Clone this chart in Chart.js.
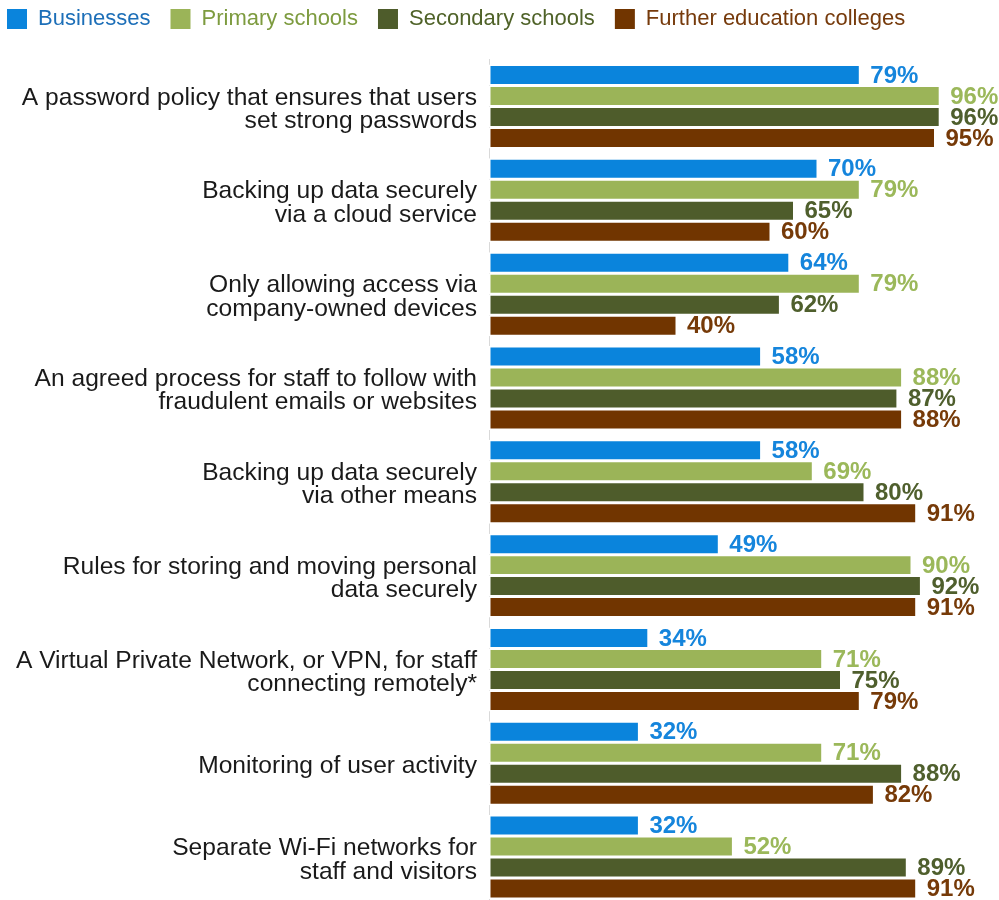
<!DOCTYPE html>
<html>
<head>
<meta charset="utf-8">
<script src="https://cdn.jsdelivr.net/npm/chart.js@4/dist/chart.umd.min.js"></script>
<style>
    html, body { margin: 0; padding: 0; background: #fff; overflow: hidden; }
    #wrap { position: relative; width: 999px; height: 900px; overflow: hidden; }
    /* shifted so the legend's own padding lands near the top-left corner */
    #measuresChart { position: absolute; left: -13px; top: -12px; }
</style>
</head>
<body>
<div id="wrap"><canvas id="measuresChart" width="1012" height="916"></canvas></div>
<script>
const categories = [
    ['A password policy that ensures that users', 'set strong passwords'],
    ['Backing up data securely', 'via a cloud service'],
    ['Only allowing access via', 'company-owned devices'],
    ['An agreed process for staff to follow with', 'fraudulent emails or websites'],
    ['Backing up data securely', 'via other means'],
    ['Rules for storing and moving personal', 'data securely'],
    ['A Virtual Private Network, or VPN, for staff', 'connecting remotely*'],
    'Monitoring of user activity',
    ['Separate Wi-Fi networks for', 'staff and visitors']
];
const seriesNames = ['Businesses', 'Primary schools', 'Secondary schools', 'Further education colleges'];
const businesses = [79, 70, 64, 58, 58, 49, 34, 32, 32];
const primarySchools = [96, 79, 79, 88, 69, 90, 71, 71, 52];
const secondarySchools = [96, 65, 62, 87, 80, 92, 75, 88, 89];
const feColleges = [95, 60, 40, 88, 91, 91, 79, 82, 91];

document.addEventListener('DOMContentLoaded', function() {
    const barColors = ['#0a84dc', '#9bb458', '#4e5c2b', '#713500'];
    const legendTextColors = ['#1d6fb8', '#7d9b3f', '#4f6228', '#763a0b'];
    const labelColors = ['#1585dc', '#9bb85a', '#4f5f2d', '#763a08'];
    const fontFamily = '"Liberation Sans", Arial, sans-serif';

    // percentage printed just past the end of every bar
    const barValueLabels = {
        id: 'barValueLabels',
        afterDatasetsDraw(chart) {
            const ctx = chart.ctx;
            ctx.save();
            ctx.font = `bold 24px ${fontFamily}`;
            ctx.textAlign = 'left';
            ctx.textBaseline = 'middle';
            chart.data.datasets.forEach((ds, i) => {
                ctx.fillStyle = labelColors[i];
                chart.getDatasetMeta(i).data.forEach((bar, j) => {
                    ctx.fillText(`${ds.data[j]}%`, bar.x + 10, bar.y + 1);
                });
            });
            ctx.restore();
        }
    };

    // a bit more room between the legend and the first group of bars
    const legendSpacing = {
        id: 'legendSpacing',
        beforeInit(chart) {
            const fit = chart.legend.fit;
            chart.legend.fit = function() {
                fit.call(this);
                this.height = 71.6;
            };
        }
    };

    const seriesData = [businesses, primarySchools, secondarySchools, feColleges];

    new Chart(document.getElementById('measuresChart').getContext('2d'), {
        type: 'bar',
        data: {
            labels: categories,
            datasets: seriesNames.map((name, i) => ({
                label: name,
                data: seriesData[i],
                backgroundColor: barColors[i],
                borderColor: '#ffffff',
                borderWidth: 1.5,
                borderSkipped: false,
                categoryPercentage: 0.895,
                barPercentage: 1
            }))
        },
        options: {
            indexAxis: 'y',
            responsive: false,
            animation: false,
            devicePixelRatio: 1,
            layout: { padding: { top: 0, right: 40, bottom: 0, left: 0 } },
            scales: {
                x: { display: false, min: 0, max: 100 },
                y: {
                    grid: { display: false, drawTicks: false },
                    border: { display: true, color: '#d9d9d9', width: 1 },
                    ticks: {
                        color: '#1a1a1a',
                        padding: 12,
                        labelOffset: 3,
                        font: { family: fontFamily, size: 24.6, lineHeight: 0.95 }
                    },
                    afterFit: (scale) => {
                        scale.width = 502;
                        // labels sit inside their groups, no extra room needed at the ends
                        scale.paddingTop = 0;
                        scale.paddingBottom = 0;
                    }
                }
            },
            plugins: {
                tooltip: { enabled: false },
                legend: {
                    position: 'top',
                    align: 'start',
                    labels: {
                        boxWidth: 20,
                        boxHeight: 20,
                        padding: 20,
                        font: { family: fontFamily, size: 22 },
                        generateLabels: (chart) => Chart.defaults.plugins.legend.labels.generateLabels(chart)
                            .map((item, i) => ({ ...item, fontColor: legendTextColors[i], lineWidth: 0 }))
                    }
                }
            }
        },
        plugins: [barValueLabels, legendSpacing]
    });
});
</script>
</body>
</html>
